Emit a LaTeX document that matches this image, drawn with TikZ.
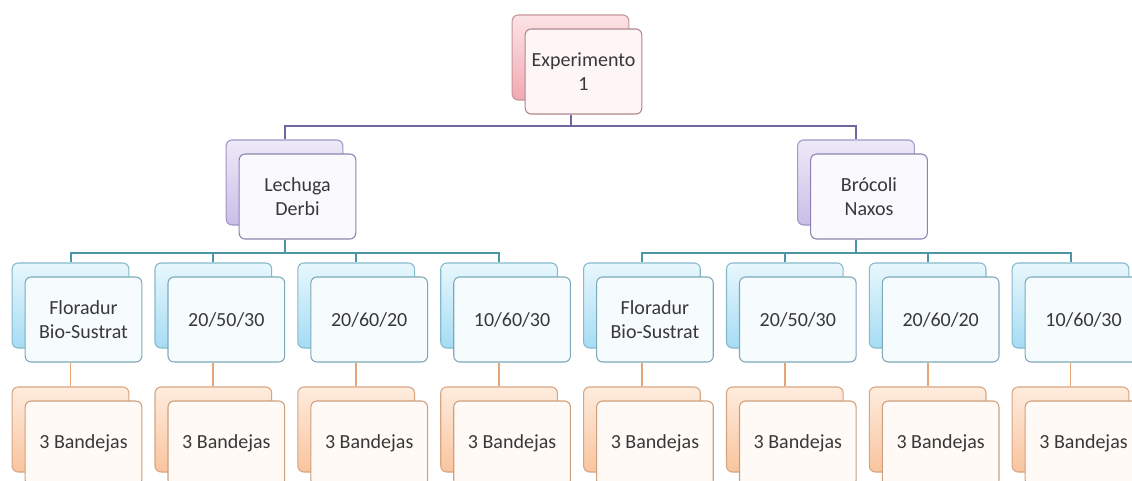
\documentclass[tikz,border=0pt]{standalone}
\usepackage{fontspec}
\setmainfont{Carlito}
\definecolor{pkB}{RGB}{196,150,155}
\definecolor{pkT}{RGB}{251,228,230}
\definecolor{pkD}{RGB}{243,168,178}
\definecolor{pkF}{RGB}{253,245,246}
\definecolor{pkL}{RGB}{175,135,140}
\definecolor{puB}{RGB}{160,150,200}
\definecolor{puT}{RGB}{238,234,248}
\definecolor{puD}{RGB}{200,190,232}
\definecolor{puF}{RGB}{250,249,254}
\definecolor{puL}{RGB}{140,130,175}
\definecolor{blB}{RGB}{135,185,205}
\definecolor{blT}{RGB}{232,247,253}
\definecolor{blD}{RGB}{165,220,244}
\definecolor{blF}{RGB}{246,252,254}
\definecolor{blL}{RGB}{125,170,185}
\definecolor{orB}{RGB}{215,165,130}
\definecolor{orT}{RGB}{254,236,222}
\definecolor{orD}{RGB}{249,196,158}
\definecolor{orF}{RGB}{255,250,245}
\definecolor{orL}{RGB}{205,160,125}
\definecolor{lnP}{RGB}{112,102,160}
\definecolor{lnT}{RGB}{75,150,165}
\definecolor{lnO}{RGB}{228,165,120}
\begin{document}
\begin{tikzpicture}[x=0.75pt,y=-0.75pt,
  box/.style={rectangle, rounded corners=4.5pt, minimum width=87.5pt, minimum height=63.75pt, inner sep=0pt, line width=0.8pt},
  txt/.style={align=center, text=black!78, font=\fontsize{15}{17.5}\selectfont},
  pinkback/.style={box, draw=pkB, top color=pkT, bottom color=pkD},
  pinkfront/.style={box, draw=pkL, fill=pkF, txt},
  purpback/.style={box, draw=puB, top color=puT, bottom color=puD},
  purpfront/.style={box, draw=puL, fill=puF, txt},
  blueback/.style={box, draw=blB, top color=blT, bottom color=blD},
  bluefront/.style={box, draw=blL, fill=blF, txt},
  orback/.style={box, draw=orB, top color=orT, bottom color=orD},
  orfront/.style={box, draw=orL, fill=orF, txt},
  purpline/.style={draw=lnP, line width=1.5pt},
  tealline/.style={draw=lnT, line width=1.5pt},
  orline/.style={draw=lnO, line width=1.3pt}
]
\clip (0,0) rectangle (1132,480);
\fill[white] (0,0) rectangle (1132,480);
% level 1
\node[pinkback] (eb) at (570.5,57.5) {};
\node[pinkfront] (ef) at (583.5,71.5) {Experimento\\1};
% level 2
\node[purpback] (lb) at (284.5,182.5) {};
\node[purpfront] (lf) at (297.5,196.5) {Lechuga\\Derbi};
\node[purpback] (bb) at (856,182.5) {};
\node[purpfront] (bf) at (869,196.5) {Brócoli\\Naxos};
% level 3 and 4
\foreach \i/\t in {1/{Floradur\\Bio-Sustrat},2/{20/50/30},3/{20/60/20},4/{10/60/30},5/{Floradur\\Bio-Sustrat},6/{20/50/30},7/{20/60/20},8/{10/60/30}} {
  \pgfmathsetmacro{\cx}{70.5+142.86*(\i-1)}
  \node[blueback] (sb\i) at (\cx,305.5) {};
  \node[bluefront] (sf\i) at (\cx+13,319.5) {\t};
  \node[orback] (tb\i) at (\cx,429.5) {};
  \node[orfront] (tf\i) at (\cx+13,443.5) {3 Bandejas};
}
% connectors level 1-2
\draw[purpline] (eb.center |- ef.south) -- ++(0,11) -| (lb.north);
\draw[purpline] (eb.center |- ef.south) -- ++(0,11) -| (bb.north);
% connectors level 2-3
\foreach \i in {1,2,3,4} {
  \draw[tealline] (lb.center |- lf.south) -- ++(0,13) -| (sb\i.north);
}
\foreach \i in {5,6,7,8} {
  \draw[tealline] (bb.center |- bf.south) -- ++(0,13) -| (sb\i.north);
}
% connectors level 3-4
\foreach \i in {1,...,8} {
  \draw[orline] (sb\i.center |- sf\i.south) -- (tb\i.north);
}
\end{tikzpicture}
\end{document}
